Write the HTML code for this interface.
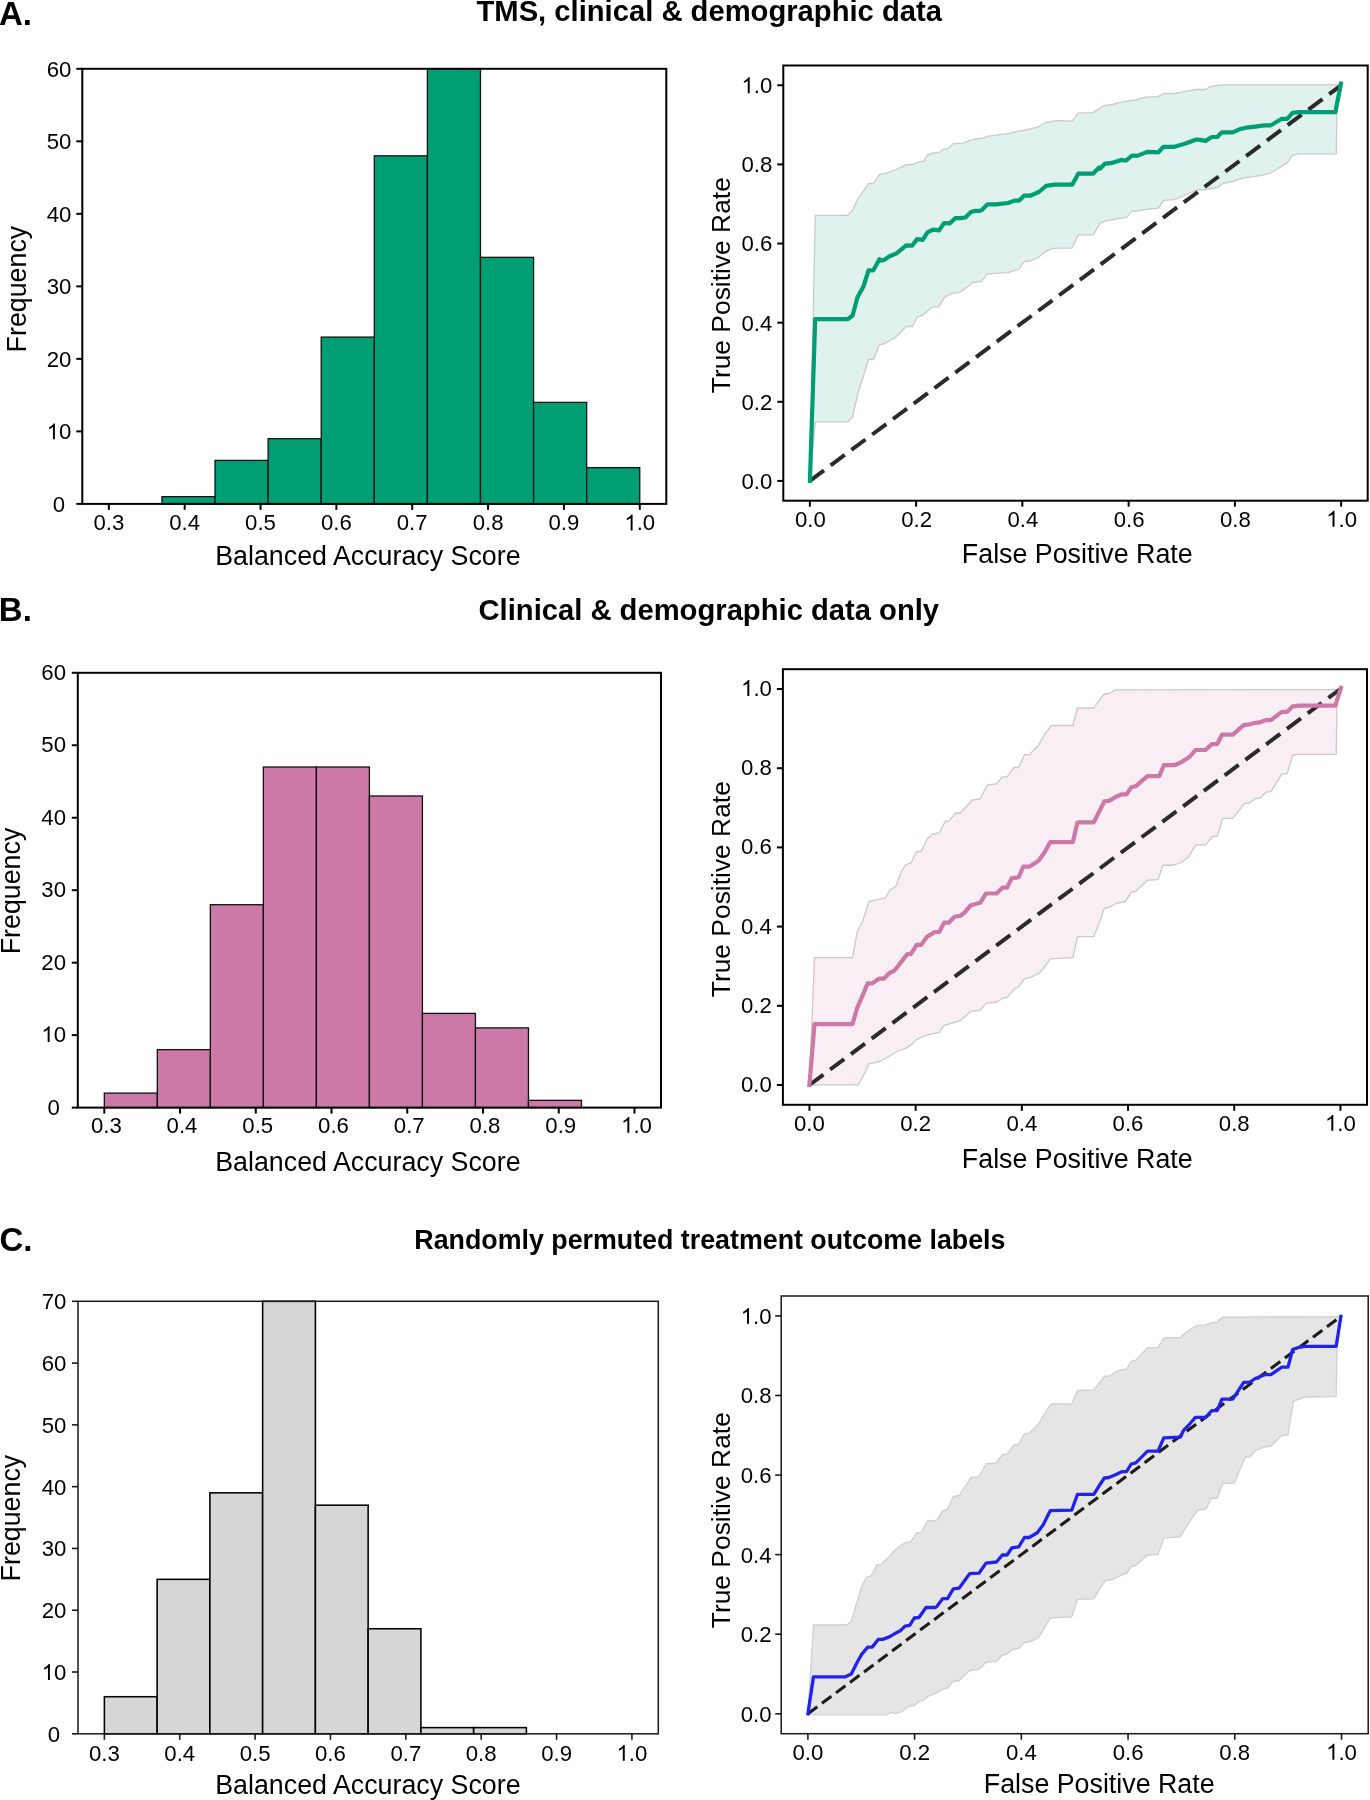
<!DOCTYPE html><html><head><meta charset="utf-8"><style>html,body{margin:0;padding:0;background:#fff;}svg{display:block;will-change:transform;}text{font-family:"Liberation Sans",sans-serif;}</style></head><body>
<svg width="1370" height="1800" viewBox="0 0 1370 1800">
<rect width="1370" height="1800" fill="#fff"/>
<text x="-1.0" y="24.8" font-size="33" font-weight="bold">A.</text>
<text x="476.5" y="21.4" font-size="29.2" font-weight="bold">TMS, clinical &amp; demographic data</text>
<text x="-1.2" y="621" font-size="33" font-weight="bold">B.</text>
<text x="478.5" y="620" font-size="29.2" font-weight="bold">Clinical &amp; demographic data only</text>
<text x="-0.6" y="1251" font-size="33" font-weight="bold">C.</text>
<text x="414.3" y="1249.4" font-size="26.8" font-weight="bold">Randomly permuted treatment outcome labels</text>
<rect x="161.94" y="496.65" width="53.09" height="7.25" fill="#009E73" stroke="#111" stroke-width="1.30"/>
<rect x="215.03" y="460.39" width="53.09" height="43.51" fill="#009E73" stroke="#111" stroke-width="1.30"/>
<rect x="268.12" y="438.63" width="53.09" height="65.26" fill="#009E73" stroke="#111" stroke-width="1.30"/>
<rect x="321.21" y="337.11" width="53.09" height="166.79" fill="#009E73" stroke="#111" stroke-width="1.30"/>
<rect x="374.30" y="155.82" width="53.09" height="348.08" fill="#009E73" stroke="#111" stroke-width="1.30"/>
<rect x="427.39" y="68.80" width="53.09" height="435.10" fill="#009E73" stroke="#111" stroke-width="1.30"/>
<rect x="480.48" y="257.34" width="53.09" height="246.56" fill="#009E73" stroke="#111" stroke-width="1.30"/>
<rect x="533.57" y="402.38" width="53.09" height="101.52" fill="#009E73" stroke="#111" stroke-width="1.30"/>
<rect x="586.66" y="467.64" width="53.09" height="36.26" fill="#009E73" stroke="#111" stroke-width="1.30"/>
<rect x="82.3" y="68.8" width="584.0" height="435.1" fill="none" stroke="#000" stroke-width="2.00"/>
<line x1="76.3" y1="503.90" x2="82.3" y2="503.90" stroke="#000" stroke-width="2.00"/>
<text x="52.83" y="511.80" font-size="22.2">0</text>
<line x1="76.3" y1="431.38" x2="82.3" y2="431.38" stroke="#000" stroke-width="2.00"/>
<path transform="translate(46.65,439.28) scale(0.01084,-0.01084)" d="M763 0L583 0L583 1147Q518 1085 412 1023Q307 961 223 930L223 1104Q374 1175 487 1276Q600 1377 647 1466L763 1466Z"/>
<text x="59.00" y="439.28" font-size="22.2">0</text>
<line x1="76.3" y1="358.87" x2="82.3" y2="358.87" stroke="#000" stroke-width="2.00"/>
<text x="46.65" y="366.77" font-size="22.2">20</text>
<line x1="76.3" y1="286.35" x2="82.3" y2="286.35" stroke="#000" stroke-width="2.00"/>
<text x="46.65" y="294.25" font-size="22.2">30</text>
<line x1="76.3" y1="213.83" x2="82.3" y2="213.83" stroke="#000" stroke-width="2.00"/>
<text x="46.65" y="221.73" font-size="22.2">40</text>
<line x1="76.3" y1="141.32" x2="82.3" y2="141.32" stroke="#000" stroke-width="2.00"/>
<text x="46.65" y="149.22" font-size="22.2">50</text>
<line x1="76.3" y1="68.80" x2="82.3" y2="68.80" stroke="#000" stroke-width="2.00"/>
<text x="46.65" y="76.70" font-size="22.2">60</text>
<line x1="108.85" y1="503.9" x2="108.85" y2="509.9" stroke="#000" stroke-width="2.00"/>
<text x="93.41" y="530.40" font-size="22.2">0.3</text>
<line x1="184.69" y1="503.9" x2="184.69" y2="509.9" stroke="#000" stroke-width="2.00"/>
<text x="169.26" y="530.40" font-size="22.2">0.4</text>
<line x1="260.53" y1="503.9" x2="260.53" y2="509.9" stroke="#000" stroke-width="2.00"/>
<text x="245.10" y="530.40" font-size="22.2">0.5</text>
<line x1="336.38" y1="503.9" x2="336.38" y2="509.9" stroke="#000" stroke-width="2.00"/>
<text x="320.95" y="530.40" font-size="22.2">0.6</text>
<line x1="412.22" y1="503.9" x2="412.22" y2="509.9" stroke="#000" stroke-width="2.00"/>
<text x="396.79" y="530.40" font-size="22.2">0.7</text>
<line x1="488.07" y1="503.9" x2="488.07" y2="509.9" stroke="#000" stroke-width="2.00"/>
<text x="472.64" y="530.40" font-size="22.2">0.8</text>
<line x1="563.91" y1="503.9" x2="563.91" y2="509.9" stroke="#000" stroke-width="2.00"/>
<text x="548.48" y="530.40" font-size="22.2">0.9</text>
<line x1="639.75" y1="503.9" x2="639.75" y2="509.9" stroke="#000" stroke-width="2.00"/>
<path transform="translate(624.32,530.40) scale(0.01084,-0.01084)" d="M763 0L583 0L583 1147Q518 1085 412 1023Q307 961 223 930L223 1104Q374 1175 487 1276Q600 1377 647 1466L763 1466Z"/>
<text x="636.67" y="530.40" font-size="22.2">.0</text>
<text x="367.9" y="565.3" font-size="26.8" text-anchor="middle">Balanced Accuracy Score</text>
<text transform="translate(26.0,289.1) rotate(-90)" font-size="26.8" text-anchor="middle">Frequency</text>
<path d="M809.9,480.9 L815.2,215.3 L847.7,215.3 L852.6,210.4 L857.5,199.4 L863.6,190.8 L868.5,183.5 L873.3,183.5 L879.5,174.4 L884.4,173.7 L895.4,170.0 L906.4,164.6 L912.5,164.6 L919.8,161.5 L923.5,161.5 L927.1,155.4 L933.3,152.9 L938.6,152.9 L943.4,149.2 L948.3,148.5 L953.2,143.6 L963.0,143.1 L972.8,139.5 L982.6,138.2 L987.5,136.3 L1009.5,133.3 L1013.1,132.1 L1022.9,130.4 L1030.2,128.9 L1037.6,127.2 L1046.1,122.3 L1057.1,120.6 L1072.2,121.1 L1078.3,113.1 L1093.0,112.6 L1104.0,105.7 L1112.6,104.5 L1121.1,102.1 L1127.2,101.1 L1135.8,99.9 L1145.6,97.2 L1157.8,96.7 L1163.9,93.5 L1174.9,93.7 L1182.2,91.8 L1189.6,90.6 L1196.2,89.5 L1205.6,89.5 L1211.0,86.4 L1222.7,84.9 L1336.2,84.9 L1341.1,85.3 L1337.0,108.0 L1336.2,153.8 L1298.9,153.8 L1292.6,155.2 L1287.2,162.6 L1280.2,167.3 L1270.9,172.8 L1261.5,175.4 L1252.2,176.6 L1242.9,178.2 L1233.5,181.3 L1222.7,183.6 L1218.0,187.5 L1202.4,189.9 L1200.0,189.5 L1197.1,189.9 L1185.4,195.0 L1174.5,199.7 L1163.5,200.4 L1158.4,208.1 L1148.2,209.2 L1136.5,211.0 L1131.4,211.4 L1126.3,217.6 L1121.2,218.0 L1105.1,221.2 L1100.0,223.4 L1093.0,234.8 L1078.3,234.8 L1072.2,247.8 L1052.2,248.3 L1044.9,251.9 L1037.6,258.0 L1030.2,261.0 L1024.1,261.7 L1019.2,269.0 L1008.2,272.7 L987.5,273.9 L981.3,281.3 L972.8,282.5 L965.5,288.6 L959.3,292.3 L952.0,293.5 L944.7,297.2 L938.6,306.9 L932.0,306.9 L922.2,315.5 L917.4,316.7 L912.5,326.5 L906.4,326.5 L895.4,337.5 L884.4,343.6 L879.5,344.8 L873.3,359.5 L868.5,359.5 L863.6,375.4 L857.5,395.0 L852.6,417.0 L847.7,421.9 L815.2,421.9 Z" fill="#E0F2ED" stroke="#CACACA" stroke-width="1.3" stroke-linejoin="round"/>
<line x1="809.9" y1="480.9" x2="1341.1" y2="85.3" stroke="#2b2b2b" stroke-width="4.0" stroke-dasharray="17.5 8.4"/>
<path d="M809.9,480.9 L815.2,319.2 L847.7,319.2 L852.6,315.5 L857.5,297.2 L863.6,286.2 L868.5,270.3 L873.3,270.3 L879.5,259.3 L880.0,260.6 L884.4,259.9 L889.5,256.2 L896.1,253.6 L906.3,245.3 L912.1,245.6 L917.2,239.1 L922.7,239.8 L927.8,232.1 L933.3,229.6 L939.1,230.3 L944.2,223.0 L949.7,223.4 L955.2,218.2 L960.3,218.2 L965.4,217.5 L971.2,211.7 L975.6,210.9 L980.0,210.9 L981.3,210.4 L987.5,204.3 L996.0,204.3 L1008.2,203.0 L1014.4,200.6 L1019.2,200.6 L1024.1,195.7 L1030.2,195.7 L1038.8,192.0 L1046.1,185.9 L1054.7,184.7 L1072.2,184.7 L1078.3,173.7 L1093.0,173.7 L1099.1,167.6 L1100.0,168.7 L1105.1,163.6 L1110.9,163.2 L1121.2,159.9 L1125.9,160.7 L1132.1,155.5 L1137.2,155.9 L1147.4,151.9 L1158.4,152.3 L1163.5,146.8 L1174.5,146.8 L1185.4,143.5 L1196.4,139.5 L1200.0,139.9 L1205.6,140.9 L1211.8,137.0 L1217.2,137.0 L1221.9,132.3 L1232.8,132.3 L1239.8,129.2 L1246.0,127.7 L1255.3,126.6 L1264.7,125.3 L1270.9,125.3 L1281.8,118.8 L1287.2,118.8 L1292.6,112.9 L1298.9,112.1 L1335.4,112.1 L1340.9,83.6" fill="none" stroke="#009E73" stroke-width="4.2" stroke-linejoin="round" stroke-linecap="square"/>
<rect x="783.3" y="65.5" width="584.4" height="435.2" fill="none" stroke="#000" stroke-width="2.00"/>
<line x1="777.3" y1="480.92" x2="783.3" y2="480.92" stroke="#000" stroke-width="2.00"/>
<text x="741.44" y="488.82" font-size="22.2">0.0</text>
<line x1="809.86" y1="500.7" x2="809.86" y2="506.7" stroke="#000" stroke-width="2.00"/>
<text x="794.93" y="526.70" font-size="22.2">0.0</text>
<line x1="777.3" y1="401.79" x2="783.3" y2="401.79" stroke="#000" stroke-width="2.00"/>
<text x="741.44" y="409.69" font-size="22.2">0.2</text>
<line x1="916.12" y1="500.7" x2="916.12" y2="506.7" stroke="#000" stroke-width="2.00"/>
<text x="901.19" y="526.70" font-size="22.2">0.2</text>
<line x1="777.3" y1="322.66" x2="783.3" y2="322.66" stroke="#000" stroke-width="2.00"/>
<text x="741.44" y="330.56" font-size="22.2">0.4</text>
<line x1="1022.37" y1="500.7" x2="1022.37" y2="506.7" stroke="#000" stroke-width="2.00"/>
<text x="1007.44" y="526.70" font-size="22.2">0.4</text>
<line x1="777.3" y1="243.54" x2="783.3" y2="243.54" stroke="#000" stroke-width="2.00"/>
<text x="741.44" y="251.44" font-size="22.2">0.6</text>
<line x1="1128.63" y1="500.7" x2="1128.63" y2="506.7" stroke="#000" stroke-width="2.00"/>
<text x="1113.70" y="526.70" font-size="22.2">0.6</text>
<line x1="777.3" y1="164.41" x2="783.3" y2="164.41" stroke="#000" stroke-width="2.00"/>
<text x="741.44" y="172.31" font-size="22.2">0.8</text>
<line x1="1234.88" y1="500.7" x2="1234.88" y2="506.7" stroke="#000" stroke-width="2.00"/>
<text x="1219.95" y="526.70" font-size="22.2">0.8</text>
<line x1="777.3" y1="85.28" x2="783.3" y2="85.28" stroke="#000" stroke-width="2.00"/>
<path transform="translate(741.44,93.18) scale(0.01084,-0.01084)" d="M763 0L583 0L583 1147Q518 1085 412 1023Q307 961 223 930L223 1104Q374 1175 487 1276Q600 1377 647 1466L763 1466Z"/>
<text x="753.79" y="93.18" font-size="22.2">.0</text>
<line x1="1341.14" y1="500.7" x2="1341.14" y2="506.7" stroke="#000" stroke-width="2.00"/>
<path transform="translate(1326.21,526.70) scale(0.01084,-0.01084)" d="M763 0L583 0L583 1147Q518 1085 412 1023Q307 961 223 930L223 1104Q374 1175 487 1276Q600 1377 647 1466L763 1466Z"/>
<text x="1338.55" y="526.70" font-size="22.2">.0</text>
<text x="1077.3" y="562.5" font-size="26.8" text-anchor="middle">False Positive Rate</text>
<text transform="translate(730.0,285.2) rotate(-90)" font-size="26.4" text-anchor="middle">True Positive Rate</text>
<rect x="104.31" y="1093.11" width="53.02" height="14.49" fill="#CC79A7" stroke="#111" stroke-width="1.30"/>
<rect x="157.33" y="1049.63" width="53.02" height="57.97" fill="#CC79A7" stroke="#111" stroke-width="1.30"/>
<rect x="210.35" y="904.69" width="53.02" height="202.91" fill="#CC79A7" stroke="#111" stroke-width="1.30"/>
<rect x="263.36" y="767.01" width="53.02" height="340.59" fill="#CC79A7" stroke="#111" stroke-width="1.30"/>
<rect x="316.38" y="767.01" width="53.02" height="340.59" fill="#CC79A7" stroke="#111" stroke-width="1.30"/>
<rect x="369.40" y="795.99" width="53.02" height="311.61" fill="#CC79A7" stroke="#111" stroke-width="1.30"/>
<rect x="422.42" y="1013.39" width="53.02" height="94.21" fill="#CC79A7" stroke="#111" stroke-width="1.30"/>
<rect x="475.44" y="1027.89" width="53.02" height="79.71" fill="#CC79A7" stroke="#111" stroke-width="1.30"/>
<rect x="528.45" y="1100.35" width="53.02" height="7.25" fill="#CC79A7" stroke="#111" stroke-width="1.30"/>
<rect x="77.8" y="672.8" width="583.2" height="434.8" fill="none" stroke="#000" stroke-width="2.00"/>
<line x1="71.8" y1="1107.60" x2="77.8" y2="1107.60" stroke="#000" stroke-width="2.00"/>
<text x="47.53" y="1114.50" font-size="22.2">0</text>
<line x1="71.8" y1="1035.13" x2="77.8" y2="1035.13" stroke="#000" stroke-width="2.00"/>
<path transform="translate(41.35,1042.03) scale(0.01084,-0.01084)" d="M763 0L583 0L583 1147Q518 1085 412 1023Q307 961 223 930L223 1104Q374 1175 487 1276Q600 1377 647 1466L763 1466Z"/>
<text x="53.70" y="1042.03" font-size="22.2">0</text>
<line x1="71.8" y1="962.67" x2="77.8" y2="962.67" stroke="#000" stroke-width="2.00"/>
<text x="41.35" y="969.57" font-size="22.2">20</text>
<line x1="71.8" y1="890.20" x2="77.8" y2="890.20" stroke="#000" stroke-width="2.00"/>
<text x="41.35" y="897.10" font-size="22.2">30</text>
<line x1="71.8" y1="817.73" x2="77.8" y2="817.73" stroke="#000" stroke-width="2.00"/>
<text x="41.35" y="824.63" font-size="22.2">40</text>
<line x1="71.8" y1="745.27" x2="77.8" y2="745.27" stroke="#000" stroke-width="2.00"/>
<text x="41.35" y="752.17" font-size="22.2">50</text>
<line x1="71.8" y1="672.80" x2="77.8" y2="672.80" stroke="#000" stroke-width="2.00"/>
<text x="41.35" y="679.70" font-size="22.2">60</text>
<line x1="104.31" y1="1107.6" x2="104.31" y2="1113.6" stroke="#000" stroke-width="2.00"/>
<text x="90.88" y="1132.80" font-size="22.2">0.3</text>
<line x1="180.05" y1="1107.6" x2="180.05" y2="1113.6" stroke="#000" stroke-width="2.00"/>
<text x="166.62" y="1132.80" font-size="22.2">0.4</text>
<line x1="255.79" y1="1107.6" x2="255.79" y2="1113.6" stroke="#000" stroke-width="2.00"/>
<text x="242.36" y="1132.80" font-size="22.2">0.5</text>
<line x1="331.53" y1="1107.6" x2="331.53" y2="1113.6" stroke="#000" stroke-width="2.00"/>
<text x="318.10" y="1132.80" font-size="22.2">0.6</text>
<line x1="407.27" y1="1107.6" x2="407.27" y2="1113.6" stroke="#000" stroke-width="2.00"/>
<text x="393.84" y="1132.80" font-size="22.2">0.7</text>
<line x1="483.01" y1="1107.6" x2="483.01" y2="1113.6" stroke="#000" stroke-width="2.00"/>
<text x="469.58" y="1132.80" font-size="22.2">0.8</text>
<line x1="558.75" y1="1107.6" x2="558.75" y2="1113.6" stroke="#000" stroke-width="2.00"/>
<text x="545.32" y="1132.80" font-size="22.2">0.9</text>
<line x1="634.49" y1="1107.6" x2="634.49" y2="1113.6" stroke="#000" stroke-width="2.00"/>
<path transform="translate(621.06,1132.80) scale(0.01084,-0.01084)" d="M763 0L583 0L583 1147Q518 1085 412 1023Q307 961 223 930L223 1104Q374 1175 487 1276Q600 1377 647 1466L763 1466Z"/>
<text x="633.41" y="1132.80" font-size="22.2">.0</text>
<text x="367.9" y="1171.0" font-size="26.8" text-anchor="middle">Balanced Accuracy Score</text>
<text transform="translate(20.0,891.0) rotate(-90)" font-size="26.8" text-anchor="middle">Frequency</text>
<path d="M809.4,1085.0 L814.5,957.6 L852.5,957.6 L857.2,932.0 L863.0,920.3 L868.8,901.7 L880.5,898.9 L885.2,898.2 L889.8,890.0 L895.7,886.5 L901.5,871.3 L906.2,864.3 L910.8,863.2 L916.7,851.5 L921.3,851.5 L927.2,838.7 L933.0,834.0 L939.3,832.8 L945.2,821.2 L948.7,821.2 L955.7,813.0 L960.3,813.0 L972.0,800.2 L980.2,799.0 L987.2,785.0 L996.5,783.8 L1002.3,776.8 L1007.0,776.8 L1014.0,767.5 L1018.7,767.5 L1024.5,754.7 L1029.2,754.7 L1038.5,745.3 L1044.3,734.8 L1051.3,725.5 L1072.8,725.5 L1077.5,708.0 L1093.8,708.0 L1098.5,701.0 L1104.3,694.0 L1109.0,693.5 L1116.0,689.8 L1336.2,689.6 L1340.4,689.0 L1337.0,703.1 L1336.2,754.3 L1298.9,754.3 L1292.6,755.0 L1287.2,773.3 L1281.8,774.1 L1270.9,791.7 L1266.2,792.0 L1260.0,798.2 L1255.3,798.5 L1249.9,802.9 L1244.4,803.6 L1232.8,818.4 L1222.7,818.4 L1217.2,836.3 L1212.6,836.3 L1205.6,844.9 L1196.2,844.9 L1195.3,845.7 L1188.3,857.3 L1181.3,862.5 L1174.3,865.0 L1162.7,865.5 L1158.0,879.7 L1147.5,880.2 L1135.8,891.2 L1131.2,892.3 L1125.3,901.7 L1116.0,903.5 L1109.0,907.5 L1104.3,908.2 L1099.7,921.5 L1093.8,936.6 L1077.5,936.6 L1072.8,957.6 L1050.2,958.8 L1044.3,967.0 L1039.7,972.8 L1030.3,977.5 L1024.5,978.6 L1018.7,986.8 L1014.0,989.1 L1007.0,997.3 L1002.3,998.5 L996.5,1002.0 L986.0,1003.1 L980.2,1010.1 L970.8,1011.3 L960.3,1020.6 L955.7,1021.8 L948.7,1024.1 L944.0,1025.3 L939.3,1032.3 L928.3,1034.6 L922.5,1037.0 L916.7,1039.3 L910.8,1045.1 L905.0,1048.6 L898.0,1051.0 L892.2,1054.5 L886.3,1058.0 L881.7,1060.3 L875.8,1062.6 L868.8,1063.8 L864.2,1074.3 L858.3,1084.8 L814.5,1084.8 Z" fill="#F8EEF4" stroke="#CACACA" stroke-width="1.3" stroke-linejoin="round"/>
<line x1="809.4" y1="1085.0" x2="1340.4" y2="689.0" stroke="#2b2b2b" stroke-width="4.0" stroke-dasharray="17.5 8.4"/>
<path d="M809.4,1085.0 L814.5,1024.1 L852.5,1024.1 L857.2,1007.8 L861.8,997.3 L867.7,983.3 L872.3,983.3 L879.3,978.6 L884.0,978.6 L889.8,972.8 L894.5,970.5 L907.3,954.1 L910.8,954.1 L916.7,944.8 L921.3,944.8 L927.2,936.6 L933.0,933.1 L934.7,932.0 L939.3,932.0 L944.0,922.7 L948.7,922.7 L954.5,916.8 L960.3,915.7 L965.0,912.2 L970.8,905.2 L980.2,902.8 L986.0,893.5 L996.5,893.5 L1002.3,887.7 L1007.0,887.7 L1011.7,878.3 L1018.7,877.2 L1023.3,866.7 L1029.2,866.7 L1038.5,860.8 L1044.3,852.7 L1050.2,842.2 L1072.8,842.2 L1077.5,822.3 L1093.8,822.3 L1098.5,813.0 L1104.3,801.3 L1109.0,800.9 L1116.0,796.7 L1121.8,794.3 L1126.5,794.3 L1131.2,787.3 L1135.8,786.2 L1147.5,776.1 L1159.2,776.1 L1163.8,765.2 L1174.3,765.2 L1180.2,762.8 L1189.5,757.0 L1195.4,750.0 L1205.6,750.0 L1211.8,744.1 L1217.2,744.1 L1221.9,734.7 L1232.8,734.7 L1243.7,725.1 L1249.9,724.3 L1255.3,722.8 L1260.0,722.3 L1266.2,720.1 L1270.9,720.1 L1281.8,711.9 L1287.2,711.9 L1292.6,706.4 L1298.9,705.7 L1335.4,705.7 L1340.9,687.8" fill="none" stroke="#CC79A7" stroke-width="4.2" stroke-linejoin="round" stroke-linecap="square"/>
<rect x="782.9" y="669.2" width="584.1" height="435.6" fill="none" stroke="#000" stroke-width="2.00"/>
<line x1="776.9" y1="1085.00" x2="782.9" y2="1085.00" stroke="#000" stroke-width="2.00"/>
<text x="741.04" y="1091.90" font-size="22.2">0.0</text>
<line x1="809.45" y1="1104.8" x2="809.45" y2="1110.8" stroke="#000" stroke-width="2.00"/>
<text x="794.02" y="1130.80" font-size="22.2">0.0</text>
<line x1="776.9" y1="1005.80" x2="782.9" y2="1005.80" stroke="#000" stroke-width="2.00"/>
<text x="741.04" y="1012.70" font-size="22.2">0.2</text>
<line x1="915.65" y1="1104.8" x2="915.65" y2="1110.8" stroke="#000" stroke-width="2.00"/>
<text x="900.22" y="1130.80" font-size="22.2">0.2</text>
<line x1="776.9" y1="926.60" x2="782.9" y2="926.60" stroke="#000" stroke-width="2.00"/>
<text x="741.04" y="933.50" font-size="22.2">0.4</text>
<line x1="1021.85" y1="1104.8" x2="1021.85" y2="1110.8" stroke="#000" stroke-width="2.00"/>
<text x="1006.42" y="1130.80" font-size="22.2">0.4</text>
<line x1="776.9" y1="847.40" x2="782.9" y2="847.40" stroke="#000" stroke-width="2.00"/>
<text x="741.04" y="854.30" font-size="22.2">0.6</text>
<line x1="1128.05" y1="1104.8" x2="1128.05" y2="1110.8" stroke="#000" stroke-width="2.00"/>
<text x="1112.62" y="1130.80" font-size="22.2">0.6</text>
<line x1="776.9" y1="768.20" x2="782.9" y2="768.20" stroke="#000" stroke-width="2.00"/>
<text x="741.04" y="775.10" font-size="22.2">0.8</text>
<line x1="1234.25" y1="1104.8" x2="1234.25" y2="1110.8" stroke="#000" stroke-width="2.00"/>
<text x="1218.82" y="1130.80" font-size="22.2">0.8</text>
<line x1="776.9" y1="689.00" x2="782.9" y2="689.00" stroke="#000" stroke-width="2.00"/>
<path transform="translate(741.04,695.90) scale(0.01084,-0.01084)" d="M763 0L583 0L583 1147Q518 1085 412 1023Q307 961 223 930L223 1104Q374 1175 487 1276Q600 1377 647 1466L763 1466Z"/>
<text x="753.39" y="695.90" font-size="22.2">.0</text>
<line x1="1340.45" y1="1104.8" x2="1340.45" y2="1110.8" stroke="#000" stroke-width="2.00"/>
<path transform="translate(1325.02,1130.80) scale(0.01084,-0.01084)" d="M763 0L583 0L583 1147Q518 1085 412 1023Q307 961 223 930L223 1104Q374 1175 487 1276Q600 1377 647 1466L763 1466Z"/>
<text x="1337.37" y="1130.80" font-size="22.2">.0</text>
<text x="1077.3" y="1168.3" font-size="26.8" text-anchor="middle">False Positive Rate</text>
<text transform="translate(730.0,889.2) rotate(-90)" font-size="26.4" text-anchor="middle">True Positive Rate</text>
<rect x="104.38" y="1696.73" width="52.75" height="37.07" fill="#D6D6D6" stroke="#000" stroke-width="1.55"/>
<rect x="157.13" y="1579.34" width="52.75" height="154.46" fill="#D6D6D6" stroke="#000" stroke-width="1.55"/>
<rect x="209.89" y="1492.84" width="52.75" height="240.96" fill="#D6D6D6" stroke="#000" stroke-width="1.55"/>
<rect x="262.64" y="1301.30" width="52.75" height="432.50" fill="#D6D6D6" stroke="#000" stroke-width="1.55"/>
<rect x="315.40" y="1505.19" width="52.75" height="228.61" fill="#D6D6D6" stroke="#000" stroke-width="1.55"/>
<rect x="368.15" y="1628.76" width="52.75" height="105.04" fill="#D6D6D6" stroke="#000" stroke-width="1.55"/>
<rect x="420.90" y="1727.62" width="52.75" height="6.18" fill="#D6D6D6" stroke="#000" stroke-width="1.55"/>
<rect x="473.66" y="1727.62" width="52.75" height="6.18" fill="#D6D6D6" stroke="#000" stroke-width="1.55"/>
<rect x="78.0" y="1301.3" width="580.3" height="432.5" fill="none" stroke="#1a1a1a" stroke-width="1.50"/>
<line x1="72.0" y1="1733.80" x2="78.0" y2="1733.80" stroke="#1a1a1a" stroke-width="1.60"/>
<text x="47.83" y="1741.70" font-size="22.2">0</text>
<line x1="72.0" y1="1672.01" x2="78.0" y2="1672.01" stroke="#1a1a1a" stroke-width="1.60"/>
<path transform="translate(41.65,1679.91) scale(0.01084,-0.01084)" d="M763 0L583 0L583 1147Q518 1085 412 1023Q307 961 223 930L223 1104Q374 1175 487 1276Q600 1377 647 1466L763 1466Z"/>
<text x="54.00" y="1679.91" font-size="22.2">0</text>
<line x1="72.0" y1="1610.23" x2="78.0" y2="1610.23" stroke="#1a1a1a" stroke-width="1.60"/>
<text x="41.65" y="1618.13" font-size="22.2">20</text>
<line x1="72.0" y1="1548.44" x2="78.0" y2="1548.44" stroke="#1a1a1a" stroke-width="1.60"/>
<text x="41.65" y="1556.34" font-size="22.2">30</text>
<line x1="72.0" y1="1486.66" x2="78.0" y2="1486.66" stroke="#1a1a1a" stroke-width="1.60"/>
<text x="41.65" y="1494.56" font-size="22.2">40</text>
<line x1="72.0" y1="1424.87" x2="78.0" y2="1424.87" stroke="#1a1a1a" stroke-width="1.60"/>
<text x="41.65" y="1432.77" font-size="22.2">50</text>
<line x1="72.0" y1="1363.09" x2="78.0" y2="1363.09" stroke="#1a1a1a" stroke-width="1.60"/>
<text x="41.65" y="1370.99" font-size="22.2">60</text>
<line x1="72.0" y1="1301.30" x2="78.0" y2="1301.30" stroke="#1a1a1a" stroke-width="1.60"/>
<text x="41.65" y="1309.20" font-size="22.2">70</text>
<line x1="104.38" y1="1733.8" x2="104.38" y2="1739.8" stroke="#1a1a1a" stroke-width="1.60"/>
<text x="88.95" y="1760.80" font-size="22.2">0.3</text>
<line x1="179.74" y1="1733.8" x2="179.74" y2="1739.8" stroke="#1a1a1a" stroke-width="1.60"/>
<text x="164.31" y="1760.80" font-size="22.2">0.4</text>
<line x1="255.10" y1="1733.8" x2="255.10" y2="1739.8" stroke="#1a1a1a" stroke-width="1.60"/>
<text x="239.67" y="1760.80" font-size="22.2">0.5</text>
<line x1="330.47" y1="1733.8" x2="330.47" y2="1739.8" stroke="#1a1a1a" stroke-width="1.60"/>
<text x="315.04" y="1760.80" font-size="22.2">0.6</text>
<line x1="405.83" y1="1733.8" x2="405.83" y2="1739.8" stroke="#1a1a1a" stroke-width="1.60"/>
<text x="390.40" y="1760.80" font-size="22.2">0.7</text>
<line x1="481.20" y1="1733.8" x2="481.20" y2="1739.8" stroke="#1a1a1a" stroke-width="1.60"/>
<text x="465.76" y="1760.80" font-size="22.2">0.8</text>
<line x1="556.56" y1="1733.8" x2="556.56" y2="1739.8" stroke="#1a1a1a" stroke-width="1.60"/>
<text x="541.13" y="1760.80" font-size="22.2">0.9</text>
<line x1="631.92" y1="1733.8" x2="631.92" y2="1739.8" stroke="#1a1a1a" stroke-width="1.60"/>
<path transform="translate(616.49,1760.80) scale(0.01084,-0.01084)" d="M763 0L583 0L583 1147Q518 1085 412 1023Q307 961 223 930L223 1104Q374 1175 487 1276Q600 1377 647 1466L763 1466Z"/>
<text x="628.84" y="1760.80" font-size="22.2">.0</text>
<text x="367.9" y="1793.5" font-size="26.8" text-anchor="middle">Balanced Accuracy Score</text>
<text transform="translate(20.0,1518.1) rotate(-90)" font-size="26.8" text-anchor="middle">Frequency</text>
<path d="M807.9,1713.8 L813.5,1625.0 L846.7,1625.0 L851.3,1621.5 L856.0,1605.1 L861.8,1586.5 L866.5,1577.1 L871.2,1576.0 L877.0,1564.8 L881.7,1563.8 L888.7,1557.3 L893.3,1551.5 L900.3,1545.7 L905.0,1542.6 L910.8,1541.7 L916.7,1532.8 L921.3,1532.1 L927.2,1521.2 L935.3,1520.5 L937.0,1520.0 L942.8,1510.7 L947.5,1509.5 L953.3,1496.7 L959.2,1495.5 L970.8,1477.5 L979.0,1476.8 L986.0,1464.0 L996.5,1462.8 L1002.3,1454.7 L1007.0,1454.2 L1014.0,1444.9 L1018.7,1444.2 L1024.5,1433.7 L1029.2,1433.2 L1038.5,1424.3 L1044.3,1413.8 L1051.3,1403.8 L1071.7,1403.8 L1077.5,1390.5 L1093.8,1389.8 L1099.7,1382.3 L1104.3,1376.5 L1110.2,1375.8 L1116.0,1371.8 L1121.8,1369.5 L1126.5,1369.5 L1131.2,1361.3 L1135.8,1360.2 L1147.5,1347.8 L1158.0,1347.3 L1163.8,1338.0 L1180.2,1337.5 L1186.0,1332.2 L1193.0,1327.5 L1196.2,1325.7 L1205.6,1324.9 L1211.8,1322.6 L1217.2,1321.8 L1222.7,1317.1 L1336.2,1316.8 L1341.5,1315.9 L1337.0,1346.3 L1336.2,1396.7 L1305.1,1397.2 L1293.4,1401.1 L1288.0,1435.0 L1281.8,1435.3 L1270.9,1446.2 L1264.7,1447.0 L1255.3,1450.5 L1249.9,1456.8 L1245.2,1457.1 L1234.3,1483.2 L1222.7,1483.5 L1217.2,1498.3 L1211.8,1498.3 L1205.6,1509.2 L1197.7,1510.2 L1190.7,1520.0 L1184.8,1529.3 L1180.2,1536.8 L1163.8,1538.2 L1158.0,1554.5 L1147.5,1555.0 L1135.8,1565.5 L1131.2,1566.6 L1126.5,1573.6 L1121.8,1574.8 L1116.0,1577.8 L1110.2,1580.2 L1105.5,1580.6 L1099.7,1588.8 L1093.8,1598.8 L1077.5,1599.3 L1071.7,1616.8 L1050.2,1618.0 L1044.3,1628.5 L1038.5,1637.8 L1030.3,1641.3 L1024.5,1642.5 L1018.7,1648.3 L1012.8,1649.5 L1007.0,1654.1 L1002.3,1655.3 L996.5,1661.1 L986.0,1662.3 L979.0,1669.3 L969.7,1670.5 L959.2,1680.5 L953.3,1681.4 L947.5,1688.0 L942.8,1689.1 L937.0,1692.6 L928.3,1696.1 L923.7,1700.1 L919.0,1701.5 L914.3,1705.5 L907.3,1706.6 L902.7,1711.3 L895.7,1713.6 L891.0,1712.5 L886.3,1714.8 L813.5,1714.8 Z" fill="#E5E5E5" stroke="#CFCFCF" stroke-width="1.3" stroke-linejoin="round"/>
<line x1="807.9" y1="1713.8" x2="1341.5" y2="1315.9" stroke="#1c1c1c" stroke-width="3.1" stroke-dasharray="11.8 5.7"/>
<path d="M807.9,1713.8 L813.5,1676.8 L845.5,1676.8 L851.3,1674.0 L857.2,1662.3 L861.8,1654.1 L867.7,1647.1 L872.3,1647.1 L878.2,1639.4 L882.8,1639.4 L889.8,1636.6 L894.5,1633.8 L900.3,1630.8 L905.0,1626.1 L909.7,1625.4 L914.3,1618.0 L919.0,1617.5 L926.0,1607.5 L935.3,1607.5 L937.0,1606.3 L942.8,1598.6 L947.5,1598.6 L953.3,1588.8 L959.2,1588.1 L963.8,1581.8 L969.7,1573.6 L979.0,1573.2 L986.0,1563.1 L996.5,1562.0 L1002.3,1555.0 L1007.0,1555.0 L1011.7,1548.0 L1018.7,1546.8 L1024.5,1537.5 L1029.2,1537.5 L1037.3,1532.8 L1043.2,1524.7 L1050.2,1510.7 L1071.7,1510.2 L1077.5,1494.3 L1093.8,1494.3 L1099.7,1485.0 L1104.3,1478.0 L1109.0,1477.5 L1116.0,1474.5 L1121.8,1471.7 L1126.5,1471.7 L1131.2,1464.0 L1135.8,1462.8 L1147.5,1451.2 L1158.0,1451.2 L1163.8,1437.9 L1180.2,1437.2 L1183.7,1430.2 L1189.5,1424.3 L1195.4,1417.4 L1205.6,1417.4 L1211.8,1410.7 L1217.2,1410.7 L1221.9,1399.2 L1232.8,1399.2 L1243.7,1382.4 L1249.9,1382.1 L1255.3,1378.5 L1264.7,1374.7 L1270.9,1374.7 L1281.8,1367.2 L1288.0,1367.2 L1292.6,1349.5 L1298.9,1347.4 L1305.1,1346.3 L1336.2,1346.3 L1340.9,1316.3" fill="none" stroke="#2222EE" stroke-width="3.3" stroke-linejoin="round" stroke-linecap="square"/>
<rect x="781.2" y="1296.0" width="587.0" height="437.7" fill="none" stroke="#1a1a1a" stroke-width="1.50"/>
<line x1="775.2" y1="1713.80" x2="781.2" y2="1713.80" stroke="#1a1a1a" stroke-width="1.60"/>
<text x="740.74" y="1721.70" font-size="22.2">0.0</text>
<line x1="807.88" y1="1733.7" x2="807.88" y2="1739.7" stroke="#1a1a1a" stroke-width="1.60"/>
<text x="792.45" y="1759.70" font-size="22.2">0.0</text>
<line x1="775.2" y1="1634.22" x2="781.2" y2="1634.22" stroke="#1a1a1a" stroke-width="1.60"/>
<text x="740.74" y="1642.12" font-size="22.2">0.2</text>
<line x1="914.61" y1="1733.7" x2="914.61" y2="1739.7" stroke="#1a1a1a" stroke-width="1.60"/>
<text x="899.18" y="1759.70" font-size="22.2">0.2</text>
<line x1="775.2" y1="1554.64" x2="781.2" y2="1554.64" stroke="#1a1a1a" stroke-width="1.60"/>
<text x="740.74" y="1562.54" font-size="22.2">0.4</text>
<line x1="1021.34" y1="1733.7" x2="1021.34" y2="1739.7" stroke="#1a1a1a" stroke-width="1.60"/>
<text x="1005.91" y="1759.70" font-size="22.2">0.4</text>
<line x1="775.2" y1="1475.06" x2="781.2" y2="1475.06" stroke="#1a1a1a" stroke-width="1.60"/>
<text x="740.74" y="1482.96" font-size="22.2">0.6</text>
<line x1="1128.06" y1="1733.7" x2="1128.06" y2="1739.7" stroke="#1a1a1a" stroke-width="1.60"/>
<text x="1112.63" y="1759.70" font-size="22.2">0.6</text>
<line x1="775.2" y1="1395.48" x2="781.2" y2="1395.48" stroke="#1a1a1a" stroke-width="1.60"/>
<text x="740.74" y="1403.38" font-size="22.2">0.8</text>
<line x1="1234.79" y1="1733.7" x2="1234.79" y2="1739.7" stroke="#1a1a1a" stroke-width="1.60"/>
<text x="1219.36" y="1759.70" font-size="22.2">0.8</text>
<line x1="775.2" y1="1315.90" x2="781.2" y2="1315.90" stroke="#1a1a1a" stroke-width="1.60"/>
<path transform="translate(740.74,1323.80) scale(0.01084,-0.01084)" d="M763 0L583 0L583 1147Q518 1085 412 1023Q307 961 223 930L223 1104Q374 1175 487 1276Q600 1377 647 1466L763 1466Z"/>
<text x="753.09" y="1323.80" font-size="22.2">.0</text>
<line x1="1341.52" y1="1733.7" x2="1341.52" y2="1739.7" stroke="#1a1a1a" stroke-width="1.60"/>
<path transform="translate(1326.09,1759.70) scale(0.01084,-0.01084)" d="M763 0L583 0L583 1147Q518 1085 412 1023Q307 961 223 930L223 1104Q374 1175 487 1276Q600 1377 647 1466L763 1466Z"/>
<text x="1338.43" y="1759.70" font-size="22.2">.0</text>
<text x="1099.2" y="1793.3" font-size="26.8" text-anchor="middle">False Positive Rate</text>
<text transform="translate(730.0,1520.2) rotate(-90)" font-size="26.4" text-anchor="middle">True Positive Rate</text>
</svg></body></html>
